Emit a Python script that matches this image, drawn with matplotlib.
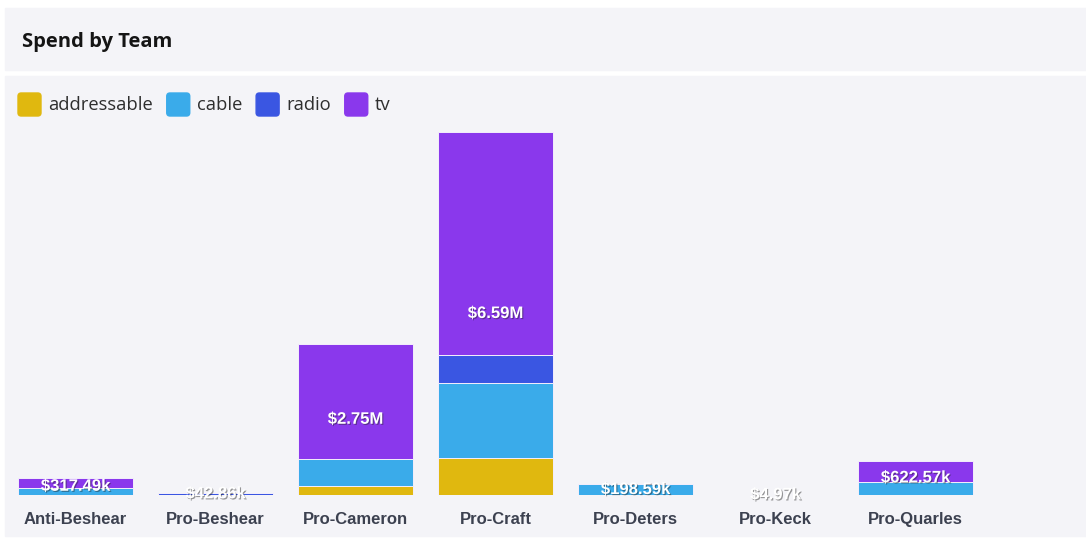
import numpy as np
import matplotlib
matplotlib.use("Agg")
import matplotlib.pyplot as plt
import matplotlib.patheffects as pe
from matplotlib.patches import FancyBboxPatch, Rectangle

# spend in thousands of dollars
teams = ["Anti-Beshear", "Pro-Beshear", "Pro-Cameron", "Pro-Craft",
         "Pro-Deters", "Pro-Keck", "Pro-Quarles"]
addressable = [0, 0, 160, 670, 0, 0, 0]
cable = [130, 0, 490, 1360, 198.59, 4.97, 240]
radio = [0, 42.86, 0, 510, 0, 0, 0]
tv = [187.49, 0, 2100, 4050, 0, 0, 382.57]

series = ["addressable", "cable", "radio", "tv"]
colors = ["#e0b80f", "#3aabea", "#3a56e2", "#8a38ec"]


def fmt_money(v):
    if v >= 1000:
        return f"${v / 1000:.2f}M"
    return f"${v:.2f}k"


W, H = 1086, 539
fig = plt.figure(figsize=(W / 100, H / 100), dpi=100)
fig.patch.set_facecolor("white")

# header and chart panels
fig.patches.append(Rectangle((5 / W, 1 - 70 / H), 1 - 5 / W, 62 / H,
                             transform=fig.transFigure, color="#f4f4f8", zorder=-2))
fig.patches.append(Rectangle((5 / W, 1 - 536 / H), 1 - 5 / W, 460 / H,
                             transform=fig.transFigure, color="#f4f4f8", zorder=-2))
fig.text(22 / W, 1 - 42 / H, "Spend by Team", family="Open Sans", weight="bold",
         fontsize=14.5, color="#151515", va="center", ha="left")

ax = fig.add_axes([5.5 / W, 44 / H, 980 / W, 363 / H])
ax.set_facecolor("none")

x = np.arange(len(teams))
data = [np.array(addressable), np.array(cable), np.array(radio), np.array(tv)]
bottom = np.zeros(len(teams))
for name, vals, c in zip(series, data, colors):
    ax.bar(x, vals, width=0.82, bottom=bottom, color=c, edgecolor="#f3eefc",
           linewidth=0.7, label=name)
    bottom += vals

totals = bottom
for xi, t in zip(x, totals):
    ax.text(xi, t / 2, fmt_money(t), ha="center", va="center", color="white",
            fontsize=12, weight="bold", family="Liberation Sans",
            path_effects=[pe.SimplePatchShadow(offset=(0.8, -0.8), shadow_rgbFace="#222",
                                               alpha=0.45), pe.Normal()])

ax.set_xlim(-0.5, len(teams) - 0.5)
ax.set_ylim(0, totals.max())
ax.set_xticks(x)
ax.set_xticklabels(teams, fontsize=12, weight="bold", color="#3c4150",
                   family="Liberation Sans")
ax.tick_params(axis="x", length=0, pad=12)
ax.set_yticks([])
for s in ax.spines.values():
    s.set_visible(False)

# legend with rounded squares
fig.canvas.draw()
renderer = fig.canvas.get_renderer()
lx = 18
for name, c in zip(series, colors):
    fig.patches.append(FancyBboxPatch((lx / W, 1 - 116 / H), 23 / W, 23 / H,
                                      boxstyle="round,pad=0,rounding_size=0.003",
                                      transform=fig.transFigure, color=c,
                                      mutation_aspect=W / H))
    t = fig.text((lx + 30) / W, 1 - 105 / H, name, family="Open Sans", fontsize=13.2,
                 color="#2e2e2e", va="center", ha="left")
    bb = t.get_window_extent(renderer)
    lx = bb.x1 + 14

fig.savefig("out.png", dpi=100)
